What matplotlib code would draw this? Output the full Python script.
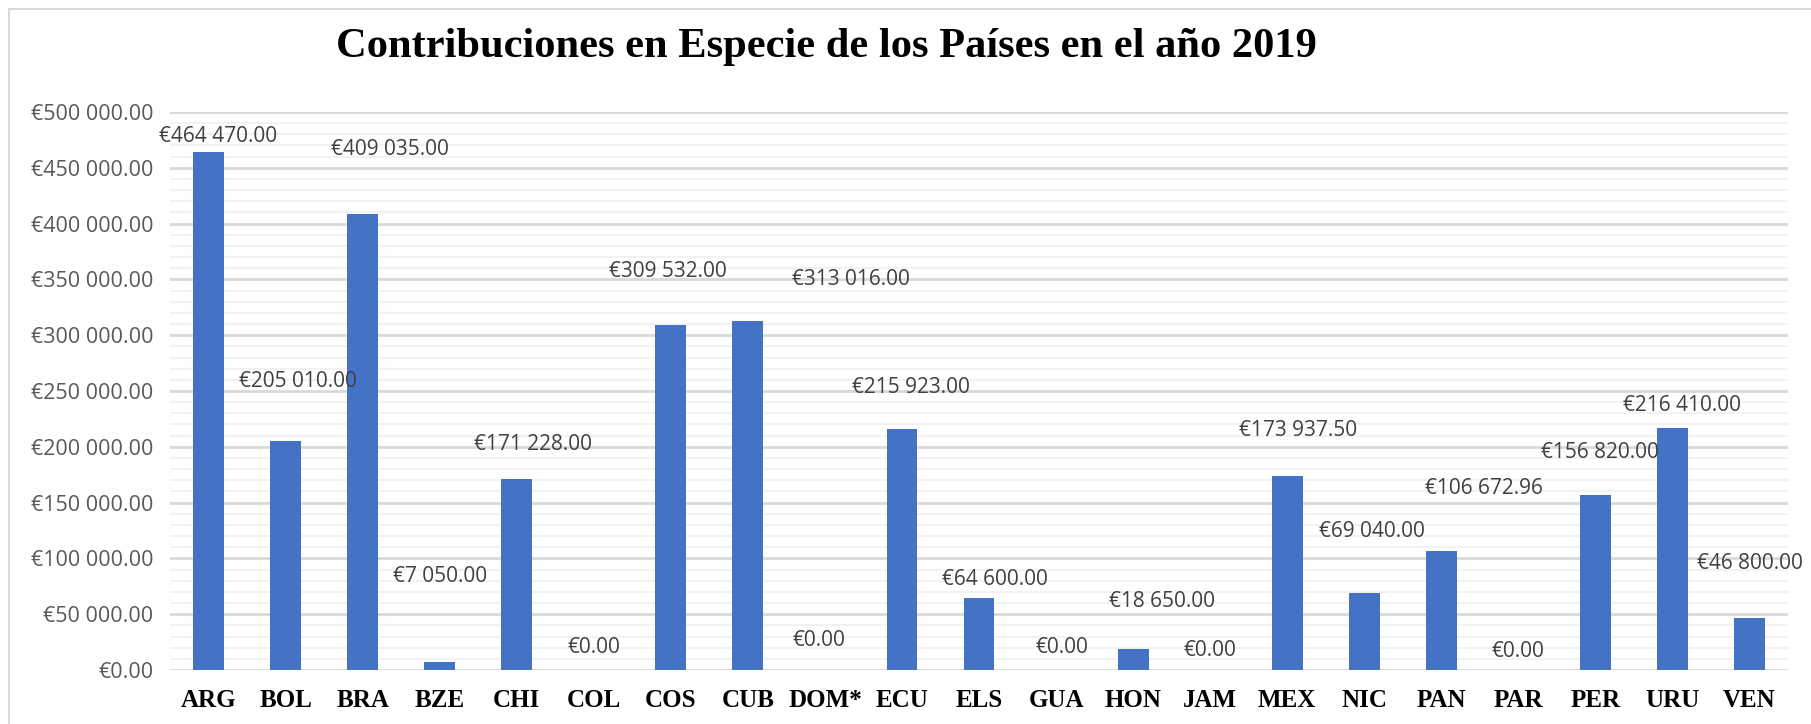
import matplotlib.pyplot as plt
from matplotlib.patches import Rectangle
from matplotlib.ticker import MultipleLocator, FuncFormatter

# datos
paises = ['ARG', 'BOL', 'BRA', 'BZE', 'CHI', 'COL', 'COS', 'CUB', 'DOM*', 'ECU', 'ELS',
          'GUA', 'HON', 'JAM', 'MEX', 'NIC', 'PAN', 'PAR', 'PER', 'URU', 'VEN']
contribuciones = [464470.00, 205010.00, 409035.00, 7050.00, 171228.00, 0.00, 309532.00,
                  313016.00, 0.00, 215923.00, 64600.00, 0.00, 18650.00, 0.00, 173937.50,
                  69040.00, 106672.96, 0.00, 156820.00, 216410.00, 46800.00]

# posicion de las etiquetas (movidas a mano como en Excel)
etiqueta_dx = [0.12, 0.16, 0.36, 0.0, 0.21, 0.0, -0.04, 1.34, -0.08, 0.12, 0.21,
               0.08, 0.38, 0.0, 0.14, 0.1, 0.55, 0.0, 0.06, 0.13, 0.0]
etiqueta_y = [477600, 258300, 466000, 83600, 202500, 20000, 357000, 349500, 26300, 253000,
              81300, 20000, 61200, 17900, 215000, 124000, 162800, 17000, 195000, 236800, 95600]


def euro(v):
    entero, dec = f'{v:,.2f}'.split('.')
    return '€' + entero.replace(',', ' ') + '.' + dec


fig = plt.figure(figsize=(18.11, 7.24), dpi=100)
fig.patches.append(Rectangle((9 / 1811, -0.1), 1.2, 1 - 9 / 724 + 0.1, transform=fig.transFigure,
                             fill=False, edgecolor='#d9d9d9', linewidth=1.5))

ax = fig.add_axes([170 / 1811, 1 - 670 / 724, 1618 / 1811, 558 / 724])
x = range(len(paises))
ax.bar(x, contribuciones, width=0.4, color='#4472C4', zorder=3)

for i, v in enumerate(contribuciones):
    ax.text(i + etiqueta_dx[i], etiqueta_y[i], euro(v), ha='center', va='center',
            fontsize=15, color='#404040', family='Open Sans', zorder=4)

ax.set_xlim(-0.5, len(paises) - 0.5)
ax.set_ylim(0, 500000)
ax.yaxis.set_major_locator(MultipleLocator(50000))
ax.yaxis.set_minor_locator(MultipleLocator(10000))
ax.yaxis.set_major_formatter(FuncFormatter(lambda v, p: euro(v)))
ax.grid(which='major', axis='y', color='#d9d9d9', linewidth=2, zorder=1)
ax.grid(which='minor', axis='y', color='#f2f2f2', linewidth=1.5, zorder=0)
ax.set_axisbelow(True)

ax.set_xticks(list(x))
ax.set_xticklabels(paises, fontsize=18, fontweight='bold', family='Liberation Serif')
ax.tick_params(axis='x', length=0, pad=14)
ax.tick_params(axis='y', which='both', length=0, pad=12, labelsize=15.5, labelcolor='#595959')
for lab in ax.get_yticklabels():
    lab.set_family('Open Sans')
for s in ax.spines.values():
    s.set_visible(False)

fig.text(826 / 1811, 1 - 57 / 724, 'Contribuciones en Especie de los Países en el año 2019',
         ha='center', va='baseline', fontsize=30.6, fontweight='bold', family='Liberation Serif')

fig.savefig('out.png', dpi=100)
